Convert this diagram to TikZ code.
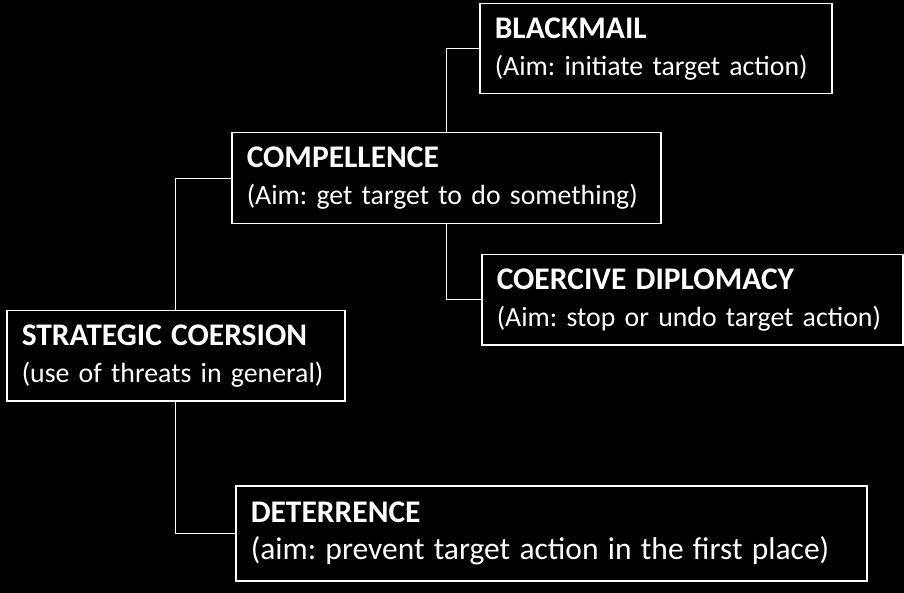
\documentclass[tikz,border=0pt]{standalone}
\usepackage{fontspec}
\setmainfont{Carlito}
\newcommand{\ttl}[1]{{\fontsize{31.5}{37}\selectfont\bfseries #1}}
\begin{document}
\frenchspacing
\begin{tikzpicture}[x=1pt,y=-1pt,
  box/.style={draw=white,line width=1.5pt,anchor=north west,align=left,text=white,
    font=\fontsize{27.8}{37}\selectfont\frenchspacing,inner xsep=15pt,inner ysep=0pt},
  conn/.style={draw=white,line width=1.2pt}]
\fill[black] (0,0) rectangle (904,593);
\useasboundingbox (0,0) rectangle (904,593);
\node[box,minimum width=352,minimum height=90,text width=322] (black) at (479,3) {\ttl{BLACKMAIL}\\(Aim: initiate target action)};
\node[box,minimum width=429,minimum height=91,text width=399] (comp) at (231,132) {\ttl{COMPELLENCE}\\(Aim: get target to do something)};
\node[box,minimum width=421,minimum height=90,text width=391] (coer) at (481,254) {\ttl{COERCIVE DIPLOMACY}\\(Aim: stop or undo target action)};
\node[box,minimum width=338,minimum height=90,text width=308] (strat) at (6,310) {\ttl{STRATEGIC COERSION}\\(use of threats in general)};
\node[box,minimum width=631,minimum height=95,text width=601] (det) at (235,485) {\ttl{DETERRENCE}\\{\fontsize{31.5}{40}\selectfont(aim: prevent target action in the first place)}};
\draw[conn] (comp.north) |- (black.west);
\draw[conn] (comp.south) |- (coer.west);
\draw[conn] (strat.north) |- (comp.west);
\draw[conn] (strat.south) |- (det.west);
\end{tikzpicture}
\end{document}
